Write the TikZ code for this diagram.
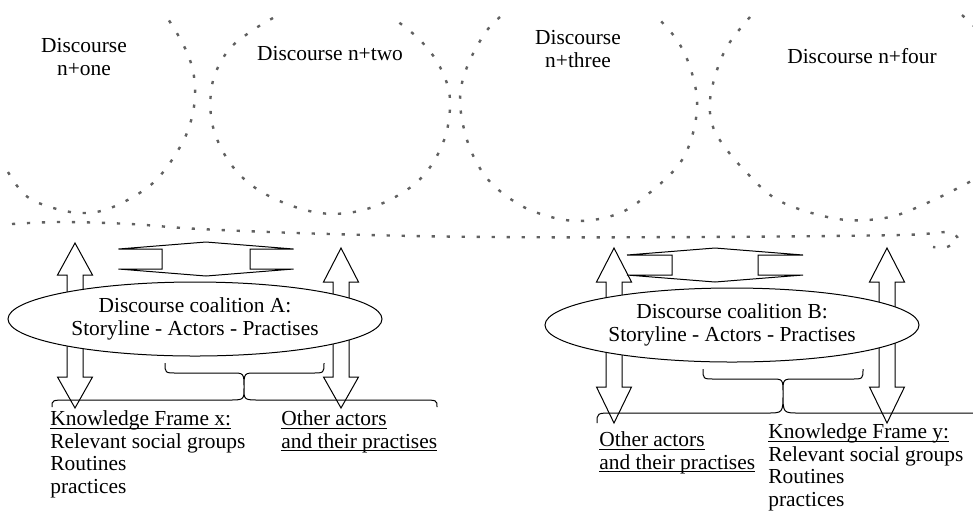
\documentclass[tikz,border=0pt]{standalone}
\usepackage{fontspec}
\setmainfont{Liberation Serif}
\usetikzlibrary{shapes.geometric}

\newcommand{\figtext}{\fontsize{10.7pt}{11.2pt}\selectfont}
\newcommand{\undl}[1]{\underline{\smash{#1}}}
% x, top tip, top head base, bottom head base, bottom tip, half head, half shaft
\newcommand{\dblarrow}[7]{%
  \draw[blockarr] (#1,#2) -- (#1+#6,#3) -- (#1+#7,#3) -- (#1+#7,#4) -- (#1+#6,#4) -- (#1,#5)
    -- (#1-#6,#4) -- (#1-#7,#4) -- (#1-#7,#3) -- (#1-#6,#3) -- cycle;}
% x1, x2, x middle, y ends, y straight part, y tip, corner
\newcommand{\curlybrace}[7]{%
  \draw[bracel] (#1,#4) .. controls (#1,#5) .. (#1+#7,#5) -- (#3-#7,#5) .. controls (#3,#5) .. (#3,#6)
    .. controls (#3,#5) .. (#3+#7,#5) -- (#2-#7,#5) .. controls (#2,#5) .. (#2,#4);}

\begin{document}
\begin{tikzpicture}[x=0.5pt,y=-0.5pt,
    discline/.style={black!62,line width=1.2pt,dash pattern=on 1.6pt off 5.9pt},
    blockarr/.style={draw,fill=white,line width=0.5pt},
    bracel/.style={line width=0.5pt},
    coal/.style={ellipse,draw,fill=white,line width=0.5pt,minimum width=187pt,minimum height=37pt,inner sep=0pt,align=center,font=\figtext},
    ttl/.style={inner sep=0pt,align=center,font=\figtext},
    lbl/.style={inner sep=0pt,align=left,font=\figtext}]
\useasboundingbox (0,0) rectangle (973,516);

% the discourse loops
\draw[discline] plot[smooth,tension=0.6] coordinates {(8,172) (25,195) (50,207) (82,213) (113,207) (153,183) (180,147) (192,117) (195,87) (190,60) (178,35) (166,16)};
\draw[discline] plot[smooth,tension=0.6] coordinates {(273,18) (250,32) (227,52) (212,85) (213,127) (233,167) (267,195) (320,213) (370,208) (417,182) (443,143) (450,100) (440,67) (420,40) (393,18)};
\draw[discline] plot[smooth,tension=0.6] coordinates {(500,17) (485,33) (467,67) (460,100) (467,140) (483,173) (505,195) (535,212) (577,221) (620,213) (653,190) (680,163) (693,133) (697,100) (690,67) (677,40) (657,17)};
\draw[discline] plot[smooth,tension=0.6] coordinates {(750,17) (730,42) (718,67) (710,100) (713,127) (727,150) (747,173) (773,197) (805,211) (847,220) (890,217) (927,203) (960,187) (980,176)};
\draw[discline] (962,15) -- (978,30);
\draw[discline] plot[smooth,tension=0.6] coordinates {(12,224) (60,222) (130,224) (200,229) (330,234) (490,237) (700,237) (900,235) (945,232) (958,239) (947,247) (933,247)};

\node[ttl,anchor=base] (d1) at (84,75) {Discourse\\n+one};
\node[ttl,anchor=base] (d2) at (330,60) {Discourse n+two};
\node[ttl,anchor=base] (d3) at (578,67) {Discourse\\n+three};
\node[ttl,anchor=base] (d4) at (862,63) {Discourse n+four};

% coalition A
\dblarrow{75}{243}{275}{377}{408}{17.5}{8}
\dblarrow{341}{248}{282}{377}{408}{17.5}{8}
\dblarrow{206}{242}{249}{269}{276}{87.5}{44}
\node[coal] (coalA) at (195,319) {Discourse coalition A:\\Storyline - Actors - Practises};
\curlybrace{165}{324}{244}{363}{373}{388}{12}
\curlybrace{52}{437}{244}{407}{400}{388}{16}
\node[lbl,anchor=base west] (kfx) at (50,493) {\undl{Knowledge Frame x:}\\Relevant social groups\\Routines\\practices};
\node[lbl,anchor=base west] (othA) at (281,448) {\undl{Other actors}\\\undl{and their practises}};

% coalition B
\dblarrow{614}{248}{282}{387}{423}{17.5}{8}
\dblarrow{887}{248}{282}{387}{423}{17.5}{8}
\dblarrow{715}{248}{255}{275}{282}{88}{43}
\node[coal] (coalB) at (732,325) {Discourse coalition B:\\Storyline - Actors - Practises};
\curlybrace{703}{863}{783}{369}{379}{393}{12}
\curlybrace{597}{985}{783}{423}{413}{393}{16}
\node[lbl,anchor=base west] (othB) at (599,469) {\undl{Other actors}\\\undl{and their practises}};
\node[lbl,anchor=base west] (kfy) at (768,506) {\undl{Knowledge Frame y:}\\Relevant social groups\\Routines\\practices};
\end{tikzpicture}
\end{document}
